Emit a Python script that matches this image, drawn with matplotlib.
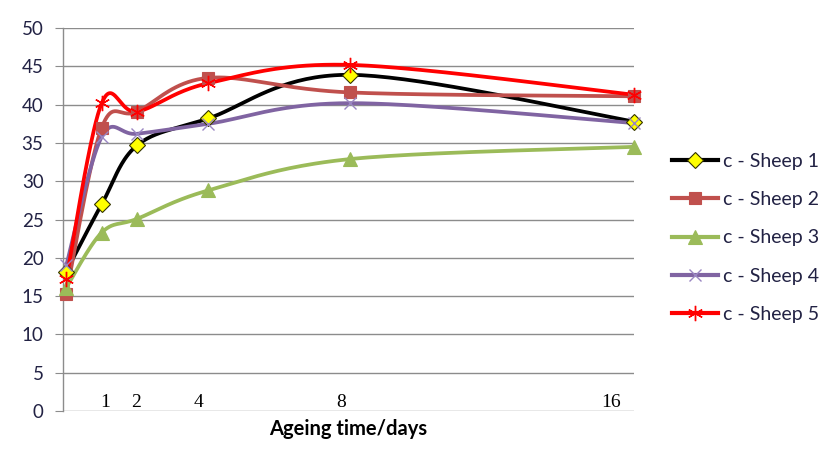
"""
Sheep ageing curves (c value vs ageing time), Excel-style smoothed lines.
"""

import matplotlib
matplotlib.use("Agg")
import matplotlib.pyplot as plt
import numpy as np

# Data
days = [0, 1, 2, 4, 8, 16]
sheep1 = [18.2, 27.0, 34.7, 38.2, 43.9, 37.8]
sheep2 = [15.3, 37.0, 39.1, 43.5, 41.6, 41.1]
sheep3 = [16.1, 23.3, 25.1, 28.8, 32.9, 34.5]
sheep4 = [19.0, 35.8, 36.2, 37.5, 40.2, 37.6]
sheep5 = [17.2, 40.2, 39.1, 42.8, 45.2, 41.3]

labels = ["c - Sheep 1", "c - Sheep 2", "c - Sheep 3", "c - Sheep 4", "c - Sheep 5"]
tick_labels = ["1", "2", "4", "8", "16"]
# where the hand-placed day labels sit on the axis (they are offset from the points)
tick_pos = [1.1, 1.97, 3.74, 7.75, 15.34]


def smooth(x, y, n=40):
    # Bezier smoothing like Excel's "smoothed line" (passes through every point)
    x = np.asarray(x, float)
    y = np.asarray(y, float)
    px = np.concatenate([[x[0]], x, [x[-1]]])
    py = np.concatenate([[y[0]], y, [y[-1]]])
    t = np.linspace(0, 1, n)
    xs, ys = [], []
    for i in range(1, len(px) - 2):
        p0 = np.array([px[i], py[i]])
        p3 = np.array([px[i + 1], py[i + 1]])
        p1 = p0 + (np.array([px[i + 1], py[i + 1]]) - np.array([px[i - 1], py[i - 1]])) / 6
        p2 = p3 - (np.array([px[i + 2], py[i + 2]]) - np.array([px[i], py[i]])) / 6
        b = ((1 - t) ** 3)[:, None] * p0 + (3 * (1 - t) ** 2 * t)[:, None] * p1 \
            + (3 * (1 - t) * t ** 2)[:, None] * p2 + (t ** 3)[:, None] * p3
        xs.extend(b[:, 0])
        ys.extend(b[:, 1])
    return xs, ys


styles = [
    dict(color="black", marker="D", mfc="#FFFF00", mec="#333300", ms=8, mew=0.8),
    dict(color="#C0504D", marker="s", mfc="#C0504D", mec="#C0504D", ms=9, mew=0.8),
    dict(color="#9BBB59", marker="^", mfc="#9BBB59", mec="#9BBB59", ms=10, mew=0.8),
    dict(color="#8064A2", marker="x", mfc="#9A86C2", mec="#9A86C2", ms=9, mew=1.0),
    dict(color="#FF0000", marker=(6, 2, 0), mfc="#FF0000", mec="#FF0000", ms=11, mew=1.0),
]

plt.rcParams["font.family"] = ["Lato", "DejaVu Sans"]

fig = plt.figure(figsize=(8.36, 4.61), dpi=100)
ax = fig.add_axes([0.0754, 0.1085, 0.683, 0.8305])

for vals, lab, st in zip([sheep1, sheep2, sheep3, sheep4, sheep5], labels, styles):
    sx, sy = smooth(days, vals)
    ax.plot(sx, sy, color=st["color"], lw=2.7, solid_capstyle="round", zorder=3)
    ax.plot(days, vals, ls="none", marker=st["marker"], ms=st["ms"], mfc=st["mfc"],
            mec=st["mec"], mew=st["mew"], zorder=4, clip_on=False)
    # proxy for the legend: line with a marker in the middle
    ax.plot([], [], color=st["color"], lw=3, marker=st["marker"], ms=st["ms"],
            mfc=st["mfc"], mec=st["mec"], mew=st["mew"], label=lab)

ax.set_xlim(-0.09, 16.0)
ax.set_ylim(0, 50)
ax.set_yticks(range(0, 51, 5))
ax.yaxis.grid(True, color="#8c8c8c", lw=1.0)
ax.set_axisbelow(True)

for side in ["top", "right", "bottom"]:
    ax.spines[side].set_visible(False)
ax.spines["left"].set_color("#8c8c8c")
ax.spines["left"].set_linewidth(1.0)

ax.tick_params(axis="y", length=6, color="#8c8c8c", pad=8, labelsize=13.5,
               labelcolor="#222244")
ax.set_xticks(tick_pos)
ax.set_xticklabels(tick_labels, fontfamily="Liberation Serif", fontsize=14)
ax.tick_params(axis="x", length=0, pad=-12)

ax.set_xlabel("Ageing time/days", fontsize=14.5, fontweight="bold")
ax.xaxis.set_label_coords(0.5, -0.022)

ax.legend(loc="center left", bbox_to_anchor=(1.035, 0.452), frameon=False, fontsize=14,
          handlelength=2.4, handletextpad=0.25, labelspacing=1.1, numpoints=1,
          labelcolor="#222244")

fig.savefig("out.png", dpi=100)
